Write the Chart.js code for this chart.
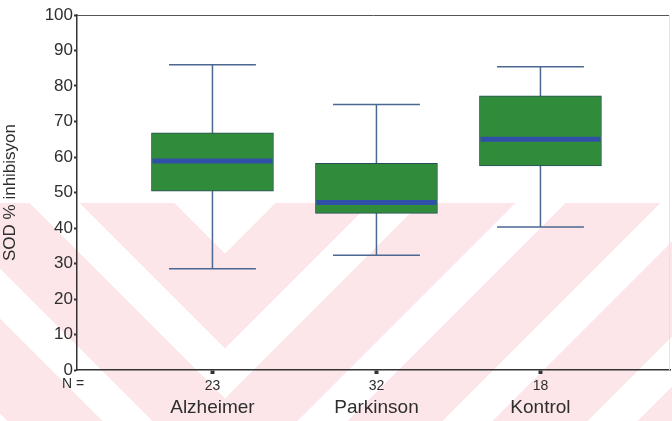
<!DOCTYPE html>
<html>
<head>
<meta charset="utf-8">
<script src="https://cdn.jsdelivr.net/npm/chart.js@4/dist/chart.umd.min.js"></script>
<style>
  html, body { margin: 0; padding: 0; background: #fff; }
  #wrap { position: relative; width: 672px; height: 421px; overflow: hidden; }
  /* faint chevron watermark of the scanned page */
  .mark { position: absolute; top: 203px; width: 447px; height: 218px;
    background: repeating-linear-gradient(-45deg, #fce6ea 0 24.7px, #fff 24.7px 60.1px, #fce6ea 60.1px 102.5px); }
  #markL { left: -222px; transform: scaleX(-1); }
  #markR { left: 225px; }
  canvas { position: absolute; left: 0; top: 0; }
</style>
</head>
<body>
<div id="wrap">
  <div class="mark" id="markL"></div>
  <div class="mark" id="markR"></div>
  <canvas id="chart" width="672" height="421"></canvas>
</div>
<script>
// group names and sample sizes
const groups = ['Alzheimer', 'Parkinson', 'Kontrol'];
const counts = ['23', '32', '18'];
const positions = [1, 2, 3];

// box plot values (SOD % inhibisyon)
const whiskerLow = [28.5, 32.3, 40.3];
const q1 = [50.4, 44.1, 57.5];
const median = [58.9, 47.2, 65.0];
const q3 = [66.8, 58.2, 77.2];
const whiskerHigh = [86.0, 74.8, 85.4];

const yTicks = [0, 10, 20, 30, 40, 50, 60, 70, 80, 90, 100];

const FONT = 'Liberation Sans, Arial, sans-serif';
const INK = '#2e2e2e';
const LINE = '#4a6890';

const boxPlotPlugin = {
  id: 'boxPlot',
  beforeDatasetsDraw(chart) {
    const { ctx, scales: { x, y } } = chart;
    const capHalf = 0.265;
    ctx.save();
    ctx.strokeStyle = LINE;
    ctx.lineWidth = 1.5;
    positions.forEach((p, i) => {
      const cx = x.getPixelForValue(p);
      const cl = x.getPixelForValue(p - capHalf);
      const cr = x.getPixelForValue(p + capHalf);
      const lo = y.getPixelForValue(whiskerLow[i]);
      const hi = y.getPixelForValue(whiskerHigh[i]);
      ctx.beginPath();
      ctx.moveTo(cx, lo); ctx.lineTo(cx, hi);
      ctx.moveTo(cl, lo); ctx.lineTo(cr, lo);
      ctx.moveTo(cl, hi); ctx.lineTo(cr, hi);
      ctx.stroke();
    });
    ctx.restore();
  },
  afterDatasetsDraw(chart) {
    const { ctx, chartArea, scales: { y } } = chart;
    const meta = chart.getDatasetMeta(0);
    ctx.save();
    ctx.strokeStyle = '#3050a8';
    ctx.lineWidth = 5;
    meta.data.forEach((bar, i) => {
      const half = bar.width / 2;
      const my = y.getPixelForValue(median[i]);
      ctx.beginPath();
      ctx.moveTo(bar.x - half + 1, my);
      ctx.lineTo(bar.x + half - 1, my);
      ctx.stroke();
    });
    // frame top and faint right edge
    ctx.strokeStyle = '#555';
    ctx.lineWidth = 1;
    ctx.beginPath();
    ctx.moveTo(chartArea.left, chartArea.top + 0.5);
    ctx.lineTo(chartArea.right, chartArea.top + 0.5);
    ctx.stroke();
    ctx.strokeStyle = '#dfe3ea';
    ctx.beginPath();
    ctx.moveTo(chartArea.right - 0.5, chartArea.top);
    ctx.lineTo(chartArea.right - 0.5, chartArea.bottom);
    ctx.stroke();
    // "N =" label
    ctx.fillStyle = INK;
    ctx.font = '14px ' + FONT;
    ctx.textAlign = 'left';
    ctx.textBaseline = 'middle';
    ctx.fillText('N =', 62, 384);
    ctx.restore();
  }
};

new Chart(document.getElementById('chart').getContext('2d'), {
  type: 'bar',
  data: {
    datasets: [{
      label: 'SOD',
      data: positions.map((p, i) => ({ x: p, y: [q1[i], q3[i]] })),
      backgroundColor: '#308c3a',
      borderColor: '#2a4d5c',
      borderWidth: 1,
      borderSkipped: false,
      barThickness: 122
    }]
  },
  plugins: [boxPlotPlugin],
  options: {
    responsive: false,
    animation: false,
    layout: { padding: { top: 15, right: 2, left: 0, bottom: 0 } },
    plugins: { legend: { display: false }, tooltip: { enabled: false } },
    scales: {
      x: {
        type: 'linear',
        position: 'bottom',
        offset: false,
        min: 0.174,
        max: 3.79,
        afterBuildTicks: (s) => { s.ticks = positions.map(v => ({ value: v })); },
        afterFit: (s) => { s.height = 24; },
        grid: { offset: false, drawOnChartArea: false, drawTicks: true, tickLength: 4, tickWidth: 4, tickColor: '#333' },
        border: { display: true, color: '#333', width: 1.5 },
        ticks: {
          color: INK, padding: 4, maxRotation: 0, autoSkip: false,
          font: { family: FONT, size: 14 },
          callback: (v) => counts[positions.indexOf(v)] || ''
        }
      },
      x2: {
        type: 'linear',
        position: 'bottom',
        offset: false,
        min: 0.174,
        max: 3.79,
        afterBuildTicks: (s) => { s.ticks = positions.map(v => ({ value: v })); },
        afterFit: (s) => { s.height = 27; },
        grid: { offset: false, display: false, drawTicks: false },
        border: { display: false },
        ticks: {
          color: INK, padding: 2, maxRotation: 0, autoSkip: false,
          font: { family: FONT, size: 19 },
          callback: (v) => groups[positions.indexOf(v)] || ''
        }
      },
      y: {
        min: 0,
        max: 100,
        afterBuildTicks: (s) => { s.ticks = yTicks.map(v => ({ value: v })); },
        afterFit: (s) => { s.width = 77; },
        grid: { drawOnChartArea: false, drawTicks: true, tickLength: 3, tickWidth: 2, tickColor: '#333' },
        border: { display: true, color: '#333', width: 1.5 },
        title: {
          display: true, text: 'SOD % inhibisyon', color: INK,
          font: { family: FONT, size: 17 }, padding: { top: 0, bottom: 2 }
        },
        ticks: { color: INK, padding: 1, font: { family: FONT, size: 17 } }
      }
    }
  }
});
</script>
</body>
</html>
